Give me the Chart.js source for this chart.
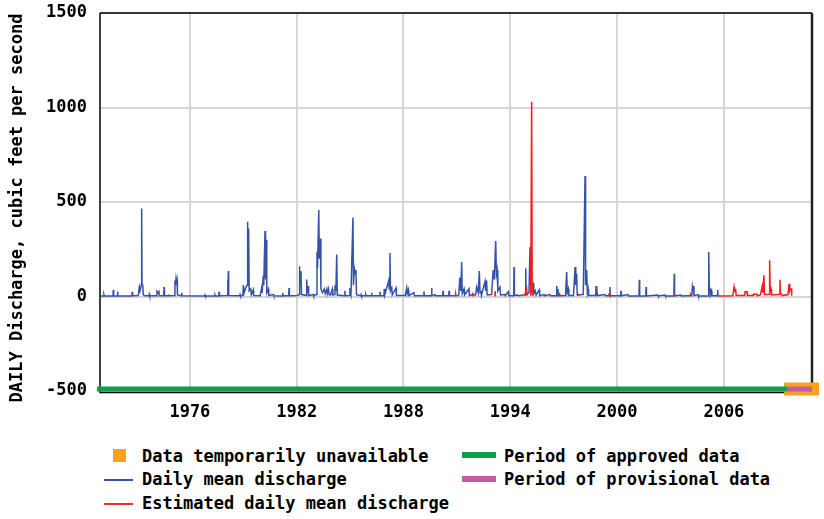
<!DOCTYPE html>
<html>
<head>
<meta charset="utf-8">
<title>Daily discharge</title>
<script src="https://cdn.jsdelivr.net/npm/chart.js@4/dist/chart.umd.min.js"></script>
<style>
  html, body { margin: 0; padding: 0; background: #fff; }
  #wrap { position: relative; width: 824px; height: 519px; background: #fff; overflow: hidden; }
  #plot { position: absolute; left: 0; top: 0; width: 824px; height: 430px; }
  .lg { position: absolute; font: bold 17px 'DejaVu Sans Mono', monospace; line-height: 17px; color: #000; white-space: nowrap; }
  .mk { position: absolute; }
</style>
</head>
<body>
<div id="wrap">
  <div id="plot"><canvas id="c" width="824" height="430"></canvas></div>

  <div class="mk" style="left:113px;top:449px;width:13px;height:13px;background:#f7a11d"></div>
  <div class="lg" style="left:142px;top:448px">Data temporarily unavailable</div>
  <div class="mk" style="left:104px;top:479px;width:29px;height:1.5px;background:#3552a8"></div>
  <div class="lg" style="left:142px;top:471px">Daily mean discharge</div>
  <div class="mk" style="left:104px;top:503px;width:29px;height:1.5px;background:#f03030"></div>
  <div class="lg" style="left:142px;top:495px">Estimated daily mean discharge</div>

  <div class="mk" style="left:462px;top:452px;width:34px;height:6px;background:#0f9f4a"></div>
  <div class="lg" style="left:504px;top:448px">Period of approved data</div>
  <div class="mk" style="left:462px;top:476px;width:34px;height:6px;background:#c55aa6"></div>
  <div class="lg" style="left:504px;top:471px">Period of provisional data</div>
</div>

<script>
// Time axis in decimal years; discharge in cubic feet per second.
const xTickYears = [1976, 1982, 1988, 1994, 2000, 2006];
const yTickValues = [-500, 0, 500, 1000, 1500];
const yAxisTitle = 'DAILY Discharge, cubic feet per second';

// Daily mean discharge (approved record)
const dailyYears = [
  1970.95, 1971.15, 1971.17, 1971.19, 1971.68, 1971.70, 1971.72, 1971.92, 1971.94, 1971.96,
  1972.74, 1972.76, 1972.78, 1973.10, 1973.16, 1973.20, 1973.27, 1973.29, 1973.31, 1973.35,
  1973.38, 1973.45, 1973.70, 1973.72, 1973.74, 1974.13, 1974.15, 1974.20, 1974.26, 1974.28,
  1974.53, 1974.55, 1974.57, 1974.78, 1974.80, 1974.82, 1975.14, 1975.16, 1975.19, 1975.22,
  1975.25, 1975.28, 1975.30, 1975.52, 1975.54, 1975.56, 1976.83, 1976.85, 1976.87, 1977.39,
  1977.41, 1977.43, 1977.62, 1977.64, 1977.66, 1978.10, 1978.12, 1978.14, 1978.16, 1978.18,
  1978.80, 1978.82, 1978.84, 1978.98, 1979.00, 1979.05, 1979.13, 1979.21, 1979.23, 1979.26,
  1979.30, 1979.33, 1979.42, 1979.45, 1979.56, 1979.58, 1979.95, 1980.03, 1980.06, 1980.12,
  1980.15, 1980.22, 1980.25, 1980.29, 1980.32, 1980.41, 1980.43, 1980.69, 1980.71, 1981.19,
  1981.21, 1981.23, 1981.55, 1981.57, 1981.59, 1982.05, 1982.13, 1982.15, 1982.18, 1982.24,
  1982.27, 1982.54, 1982.56, 1982.60, 1982.65, 1982.67, 1982.93, 1982.95, 1983.10, 1983.14,
  1983.17, 1983.24, 1983.27, 1983.33, 1983.36, 1983.45, 1983.55, 1983.60, 1983.69, 1983.72,
  1983.79, 1983.82, 1983.90, 1984.00, 1984.03, 1984.13, 1984.15, 1984.20, 1984.25, 1984.28,
  1984.69, 1984.71, 1984.73, 1984.97, 1984.99, 1985.05, 1985.16, 1985.19, 1985.24, 1985.29,
  1985.33, 1985.36, 1985.60, 1985.62, 1985.64, 1985.86, 1985.88, 1985.90, 1986.19, 1986.21,
  1986.23, 1986.66, 1986.68, 1986.70, 1986.90, 1986.92, 1986.95, 1987.17, 1987.20, 1987.24,
  1987.27, 1987.34, 1987.37, 1987.58, 1987.60, 1988.10, 1988.18, 1988.21, 1988.27, 1988.30,
  1988.59, 1988.61, 1989.13, 1989.15, 1989.17, 1989.56, 1989.58, 1989.60, 1989.77, 1989.79,
  1990.20, 1990.22, 1990.24, 1990.54, 1990.56, 1990.58, 1991.10, 1991.17, 1991.22, 1991.27,
  1991.30, 1991.40, 1991.43, 1991.68, 1991.70, 1991.91, 1992.05, 1992.11, 1992.20, 1992.26,
  1992.30, 1992.35, 1992.38, 1992.58, 1992.62, 1992.67, 1992.70, 1992.95, 1993.04, 1993.10,
  1993.18, 1993.22, 1993.26, 1993.30, 1993.42, 1993.45, 1993.70, 1993.72, 1993.89, 1993.91,
  1994.19, 1994.21, 1994.23, 1994.40, 1994.50, 1994.85, 1994.87, 1994.89, 1995.05, 1995.11,
  1995.15, 1995.28, 1995.32, 1995.40, 1995.45, 1995.63, 1995.65, 1995.89, 1995.91, 1996.23,
  1996.25, 1996.59, 1996.61, 1996.64, 1996.68, 1996.70, 1997.10, 1997.17, 1997.20, 1997.26,
  1997.29, 1997.55, 1997.64, 1997.68, 1997.73, 1997.76, 1998.10, 1998.20, 1998.23, 1998.29,
  1998.33, 1998.37, 1998.40, 1998.80, 1998.82, 1998.85, 1998.87, 1998.89, 1999.32, 1999.34,
  1999.58, 1999.60, 1999.62, 2000.20, 2000.22, 2000.24, 2000.61, 2000.63, 2001.23, 2001.25,
  2001.27, 2001.61, 2001.63, 2001.65, 2002.30, 2002.32, 2002.70, 2002.72, 2003.19, 2003.21,
  2003.23, 2003.59, 2003.61, 2004.20, 2004.23, 2004.26, 2004.30, 2004.32, 2004.55, 2004.57,
  2005.13, 2005.15, 2005.18, 2005.22, 2005.25, 2005.31, 2005.33, 2005.63, 2005.65, 2005.67,
  2005.75
];
const dailyCfs = [
  3, 3, 10, 3, 3, 35, 4, 3, 27, 3,
  3, 25, 4, 5, 50, 30, 60, 466, 64, 62,
  10, 4, 4, 12, 4, 4, 27, 20, 27, 4,
  4, 50, 4, 4, 10, 4, 5, 85, 60, 93,
  70, 85, 8, 4, 20, 4, 3, 8, 3, 3,
  8, 3, 3, 25, 4, 5, 85, 20, 135, 5,
  4, 10, 4, 5, 60, 20, 45, 60, 395, 80,
  360, 30, 40, 10, 35, 5, 4, 45, 20, 110,
  60, 347, 90, 300, 20, 40, 5, 10, 4, 3,
  20, 4, 4, 45, 4, 5, 10, 160, 60, 135,
  10, 5, 90, 20, 55, 5, 10, 4, 10, 235,
  150, 458, 200, 307, 40, 20, 40, 15, 40, 15,
  40, 10, 8, 40, 8, 10, 60, 30, 222, 8,
  4, 30, 4, 5, 45, 15, 418, 60, 147, 120,
  140, 10, 4, 10, 4, 4, 10, 4, 4, 20,
  4, 4, 25, 4, 5, 40, 10, 85, 40, 230,
  30, 45, 8, 45, 5, 5, 45, 15, 35, 5,
  20, 4, 4, 27, 4, 4, 45, 4, 10, 4,
  4, 30, 4, 4, 30, 4, 5, 100, 30, 183,
  15, 40, 8, 40, 5, 10, 8, 50, 20, 135,
  20, 30, 5, 80, 30, 85, 8, 10, 140, 90,
  293, 120, 140, 30, 50, 8, 10, 4, 25, 4,
  4, 156, 5, 8, 4, 10, 150, 10, 20, 262,
  60, 70, 15, 30, 8, 35, 4, 10, 4, 10,
  4, 4, 55, 20, 40, 4, 5, 130, 20, 40,
  5, 5, 156, 60, 120, 8, 10, 638, 60, 140,
  20, 40, 5, 5, 55, 20, 45, 5, 10, 4,
  4, 50, 4, 4, 30, 4, 10, 3, 3, 88,
  3, 3, 50, 3, 8, 3, 8, 3, 3, 120,
  3, 8, 3, 5, 50, 30, 55, 5, 10, 3,
  3, 236, 50, 40, 10, 28, 4, 4, 35, 4,
  3
];

// Estimated daily mean discharge (null separates estimated spells)
const estYears = [
  1990.90, 1990.93, 1990.96, 1990.97,
  1991.86, 1991.90, 1991.96, 1991.97,
  1993.10, 1993.14, 1993.17, 1993.18,
  1994.80, 1994.92, 1994.95, 1994.96,
  1995.15, 1995.20, 1995.23, 1995.27, 1995.28,
  1995.95, 1995.97, 1996.00, 1996.01,
  1996.76, 1996.78, 1996.82, 1996.83,
  1997.80, 1997.83, 1997.87, 1997.88,
  1999.50, 1999.55, 1999.60, 1999.61,
  2003.18, 2003.22, 2003.26, 2003.27,
  2004.10, 2004.13, 2004.16, 2004.17,
  2005.72, 2006.50, 2006.57, 2006.60, 2006.66, 2006.69, 2007.17, 2007.19, 2007.30, 2007.32,
  2007.64, 2007.66, 2007.75, 2007.86, 2007.88, 2008.05, 2008.16, 2008.19, 2008.25, 2008.28,
  2008.55, 2008.57, 2008.60, 2008.65, 2008.68, 2009.10, 2009.15, 2009.18, 2009.24, 2009.28,
  2009.60, 2009.66, 2009.70, 2009.74, 2009.80, 2009.81
];
const estCfs = [
  4, 15, 4, null,
  4, 12, 4, null,
  4, 28, 4, null,
  4, 40, 4, null,
  4, 1030, 30, 4, null,
  4, 10, 4, null,
  4, 10, 4, null,
  4, 10, 4, null,
  4, 12, 4, null,
  4, 10, 4, null,
  4, 10, 4, null,
  3, 4, 50, 30, 35, 5, 5, 25, 25, 5,
  5, 12, 12, 12, 4, 8, 55, 20, 112, 10,
  10, 192, 30, 40, 8, 10, 88, 15, 12, 5,
  10, 67, 30, 40, 40, 4
];

// Record periods (start, end) in decimal years
const approvedPeriod = [1970.78, 2009.55];
const provisionalPeriod = [2009.55, 2010.95];
const unavailablePeriod = [2009.38, 2011.34];

const toPoints = (xs, ys) => xs.map((x, i) => ({ x, y: ys[i] }));
const BAR_LEVEL = -490;
const spanPoints = (p) => [{ x: p[0], y: BAR_LEVEL }, { x: p[1], y: BAR_LEVEL }];

const FONT = "'DejaVu Sans Mono', monospace";

// Black frame round the plotting area
const framePlugin = {
  id: 'frame',
  beforeDatasetsDraw(chart) {
    const { ctx, chartArea: a } = chart;
    ctx.save();
    ctx.strokeStyle = '#000';
    ctx.lineWidth = 1.5;
    ctx.beginPath();
    ctx.moveTo(a.left, a.top);
    ctx.lineTo(a.right, a.top);
    ctx.moveTo(a.left, a.top);
    ctx.lineTo(a.left, a.bottom + 1.5);
    ctx.lineTo(a.right, a.bottom + 1.5);
    ctx.stroke();
    ctx.strokeStyle = '#222';
    ctx.lineWidth = 2.5;
    ctx.beginPath();
    ctx.moveTo(a.right, a.top);
    ctx.lineTo(a.right, a.bottom + 1.5);
    ctx.stroke();
    ctx.restore();
  }
};

// Rotated y-axis caption, centred a little below the middle of the plot
const yTitlePlugin = {
  id: 'yTitle',
  afterDraw(chart) {
    const { ctx, chartArea: a } = chart;
    ctx.save();
    ctx.translate(18, (a.top + a.bottom) / 2 + 6);
    ctx.rotate(-Math.PI / 2);
    ctx.font = "bold 17px " + FONT;
    ctx.fillStyle = '#000';
    ctx.textAlign = 'center';
    ctx.textBaseline = 'middle';
    ctx.fillText(yAxisTitle, 0, 0);
    ctx.restore();
  }
};

new Chart(document.getElementById('c'), {
  type: 'line',
  data: {
    datasets: [
      { label: 'Estimated daily mean discharge', data: toPoints(estYears, estCfs),
        borderColor: '#f51c1c', borderWidth: 1.5, spanGaps: false, order: 1 },
      { label: 'Daily mean discharge', data: toPoints(dailyYears, dailyCfs),
        borderColor: '#3552a8', borderWidth: 1.5, order: 2 },
      { label: 'Period of provisional data', data: spanPoints(provisionalPeriod),
        borderColor: '#c55aa6', borderWidth: 5, clip: false, order: 3 },
      { label: 'Period of approved data', data: spanPoints(approvedPeriod),
        borderColor: '#0f9f4a', borderWidth: 5, clip: false, order: 4 },
      { label: 'Data temporarily unavailable', data: spanPoints(unavailablePeriod),
        borderColor: '#f7a11d', borderWidth: 13, clip: false, order: 5 }
    ]
  },
  options: {
    responsive: false,
    animation: false,
    devicePixelRatio: 1,
    layout: { padding: { top: 13, right: 12, left: 0, bottom: 0 } },
    elements: { point: { radius: 0, hoverRadius: 0 }, line: { tension: 0, borderCapStyle: 'butt' } },
    plugins: { legend: { display: false }, tooltip: { enabled: false } },
    events: [],
    scales: {
      x: {
        type: 'linear',
        min: 1970.95,
        max: 2010.95,
        afterBuildTicks(scale) { scale.ticks = xTickYears.map(v => ({ value: v })); },
        afterFit(scale) { scale.height = 39; scale.paddingLeft = 0; scale.paddingRight = 0; },
        grid: { color: '#d6d6d6', lineWidth: 2, drawTicks: false },
        border: { display: false },
        ticks: {
          padding: 11, maxRotation: 0, autoSkip: false,
          color: '#000', font: { family: FONT, size: 17, weight: 'bold' },
          callback: (v) => String(v)
        }
      },
      y: {
        min: -500,
        max: 1500,
        afterBuildTicks(scale) { scale.ticks = yTickValues.map(v => ({ value: v })); },
        afterFit(scale) { scale.width = 100; scale.paddingTop = 0; scale.paddingBottom = 0; },
        grid: { color: '#d6d6d6', lineWidth: 2, drawTicks: false },
        border: { display: false },
        ticks: {
          padding: 13, color: '#000', font: { family: FONT, size: 17, weight: 'bold' },
          callback: (v) => String(v)
        }
      }
    }
  },
  plugins: [framePlugin, yTitlePlugin]
});
</script>
</body>
</html>
